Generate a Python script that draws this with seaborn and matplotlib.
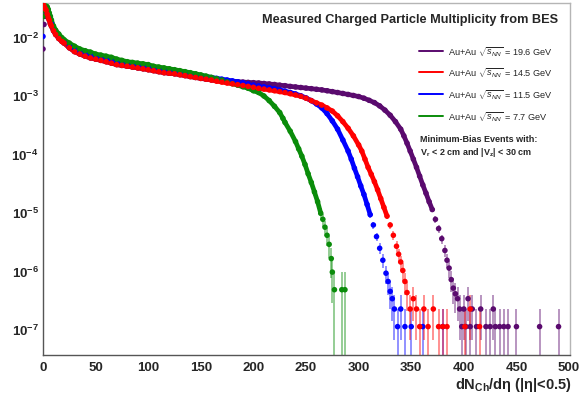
import numpy as np
import pandas as pd
import matplotlib
matplotlib.use("Agg")
import matplotlib.pyplot as plt
import seaborn as sns
from matplotlib.ticker import LogLocator, FixedLocator, FuncFormatter, NullFormatter
from matplotlib.lines import Line2D

# ---------------- data ----------------
energies = ["19.6", "14.5", "11.5", "7.7"]
colors = {"19.6": "#5a0a6e", "14.5": "#ff0000", "11.5": "#0000ff", "7.7": "#0a8c0a"}
one_count = {"19.6": 1.1e-7, "14.5": 1.1e-7, "11.5": 1.1e-7, "7.7": 4.7e-7}

x_196 = [0, 1, 2, 3, 4, 5, 6, 7, 8, 10, 12, 15, 18, 20, 25, 30, 35, 40, 45, 50, 55, 60, 65, 70, 75,
         80, 85, 90, 95, 100, 105, 110, 115, 120, 125, 130, 135, 140, 145, 150, 155, 160, 165, 170,
         175, 180, 185, 190, 195, 200, 205, 210, 215, 220, 225, 230, 235, 240, 245, 250, 255, 260,
         265, 270, 275, 280, 285, 290, 295, 300, 305, 310, 315, 320, 325, 330, 335, 340, 343, 346,
         349, 352, 355, 358, 361, 364, 367, 370, 373, 376, 379, 382, 384, 386, 388, 390, 392, 394,
         396, 398, 400, 402, 404, 406, 408, 412, 416, 421, 425, 428, 430, 434, 438, 442, 450, 472, 490]
y_196 = [0.0061, 0.016, 0.022, 0.026, 0.024, 0.021, 0.019, 0.0165, 0.015, 0.0125, 0.0108, 0.0092,
         0.0082, 0.0077, 0.0064, 0.0055, 0.0050, 0.0046, 0.0043, 0.0041, 0.0039, 0.0037, 0.0035,
         0.0033, 0.0032, 0.0031, 0.0030, 0.0029, 0.0028, 0.0027, 0.0026, 0.0025, 0.0024, 0.00235,
         0.0023, 0.00222, 0.00214, 0.00206, 0.00199, 0.00192, 0.00186, 0.00181, 0.00177, 0.00174,
         0.00172, 0.0017, 0.00168, 0.00166, 0.00164, 0.00162, 0.0016, 0.00157, 0.00154, 0.00151,
         0.00147, 0.00144, 0.0014, 0.00137, 0.00134, 0.00131, 0.00128, 0.00125, 0.00122, 0.00118,
         0.00114, 0.0011, 0.00106, 0.00102, 0.00098, 0.00094, 0.00088, 0.00081, 0.00074, 0.00065,
         0.00055, 0.00045, 0.00035, 0.00026, 0.0002, 0.00015, 0.00011, 8e-5, 5.8e-5, 4.1e-5, 2.9e-5,
         2.1e-5, 1.5e-5, 1.1e-5, 7.5e-6, 5.2e-6, 3.5e-6, 2.2e-6, 1.5e-6, 1.1e-6, 7e-7, 5e-7, 4e-7,
         3.3e-7, 2.2e-7, 1.1e-7, 2.2e-7, 1.1e-7, 3.3e-7, 1.1e-7, 2.2e-7, 1.1e-7, 2.2e-7, 1.1e-7,
         1.1e-7, 2.2e-7, 1.1e-7, 1.1e-7, 1.1e-7, 1.1e-7, 1.1e-7, 1.1e-7, 1.1e-7]

x_145 = [0, 1, 2, 3, 4, 5, 6, 7, 8, 10, 12, 15, 18, 20, 25, 30, 35, 40, 45, 50, 55, 60, 65, 70, 75,
         80, 85, 90, 95, 100, 105, 110, 115, 120, 125, 130, 135, 140, 145, 150, 155, 160, 165, 170,
         175, 180, 185, 190, 195, 200, 205, 210, 215, 220, 225, 230, 235, 240, 245, 250, 255, 260,
         265, 270, 275, 280, 285, 290, 295, 300, 303, 306, 309, 312, 315, 318, 321, 324, 327, 330,
         333, 336, 338, 340, 342, 344, 346, 349, 352, 355, 358, 362, 366, 371, 376, 380, 384, 401,
         406, 415]
y_145 = [0.037, 0.033, 0.030, 0.028, 0.024, 0.021, 0.019, 0.0165, 0.015, 0.0125, 0.0108, 0.0092,
         0.0082, 0.0077, 0.0064, 0.0055, 0.0050, 0.0046, 0.0043, 0.0041, 0.0039, 0.0037, 0.0035,
         0.0033, 0.0032, 0.0031, 0.0030, 0.0029, 0.0028, 0.0027, 0.0026, 0.0025, 0.0024, 0.00235,
         0.0023, 0.00222, 0.00214, 0.00206, 0.00199, 0.00192, 0.00186, 0.0018, 0.00172, 0.00166,
         0.0016, 0.00155, 0.0015, 0.00145, 0.0014, 0.00135, 0.0013, 0.00126, 0.00122, 0.00118,
         0.00114, 0.0011, 0.00105, 0.001, 0.00095, 0.00088, 0.0008, 0.00073, 0.00067, 0.0006,
         0.00053, 0.00044, 0.00035, 0.00027, 0.0002, 0.00014, 0.00011, 8e-5, 5.8e-5, 4.4e-5, 3.3e-5,
         2.4e-5, 1.7e-5, 1.2e-5, 8.5e-6, 6e-6, 4e-6, 2.6e-6, 1.9e-6, 1.4e-6, 1.0e-6, 6.5e-7, 4.2e-7,
         2.2e-7, 3.3e-7, 2.2e-7, 1.1e-7, 2.2e-7, 1.1e-7, 2.2e-7, 1.1e-7, 1.1e-7, 1.1e-7, 1.1e-7,
         2.2e-7, 1.1e-7]

x_115 = [0, 1, 2, 3, 4, 5, 6, 7, 8, 10, 12, 15, 18, 20, 25, 30, 35, 40, 45, 50, 55, 60, 65, 70, 75,
         80, 85, 90, 95, 100, 105, 110, 115, 120, 125, 130, 135, 140, 145, 150, 155, 160, 165, 170,
         175, 180, 185, 190, 195, 200, 205, 210, 215, 220, 225, 230, 235, 240, 245, 250, 255, 260,
         265, 270, 275, 280, 285, 290, 293, 296, 299, 302, 305, 308, 311, 314, 317, 320, 323, 326,
         328, 330, 332, 334, 337, 340, 344, 350, 361, 380]
y_115 = [0.010, 0.028, 0.030, 0.029, 0.026, 0.023, 0.021, 0.019, 0.017, 0.0135, 0.0115, 0.0098,
         0.0087, 0.0081, 0.0069, 0.0061, 0.0055, 0.0051, 0.0048, 0.0045, 0.0043, 0.0041, 0.0039,
         0.0037, 0.0035, 0.0034, 0.0033, 0.0032, 0.0031, 0.0030, 0.0029, 0.0028, 0.0027, 0.0026,
         0.00253, 0.00246, 0.00239, 0.00232, 0.00225, 0.00212, 0.00205, 0.00198, 0.00192, 0.00186,
         0.0018, 0.00174, 0.00168, 0.00162, 0.00155, 0.00148, 0.00143, 0.00138, 0.00133, 0.00128,
         0.00122, 0.00116, 0.0011, 0.00104, 0.00097, 0.00089, 0.0008, 0.0007, 0.0006, 0.00048,
         0.00036, 0.00026, 0.00017, 0.00011, 8e-5, 5.6e-5, 4e-5, 2.8e-5, 2e-5, 1.35e-5, 9e-6, 6e-6,
         3.8e-6, 2.4e-6, 1.5e-6, 9e-7, 6.5e-7, 4.4e-7, 3.3e-7, 2.2e-7, 1.1e-7, 2.2e-7, 1.1e-7,
         1.1e-7, 1.1e-7, 1.1e-7]

x_77 = [0, 1, 2, 3, 4, 5, 6, 7, 8, 10, 12, 15, 18, 20, 25, 30, 35, 40, 45, 50, 55, 60, 65, 70, 75,
        80, 85, 90, 95, 100, 105, 110, 115, 120, 125, 130, 135, 140, 145, 150, 155, 160, 165, 170,
        175, 180, 185, 190, 195, 200, 205, 210, 215, 220, 225, 228, 230, 235, 240, 243, 246, 249,
        252, 255, 258, 261, 264, 266, 268, 270, 272, 274, 275, 277, 284, 287]
y_77 = [0.022, 0.028, 0.031, 0.033, 0.032, 0.029, 0.025, 0.022, 0.019, 0.015, 0.0128, 0.011,
        0.0095, 0.0088, 0.0077, 0.0068, 0.0061, 0.0057, 0.0054, 0.0050, 0.0048, 0.0046, 0.0044,
        0.0041, 0.0039, 0.0037, 0.0036, 0.0035, 0.0034, 0.0033, 0.0031, 0.0030, 0.0029, 0.0028,
        0.0027, 0.0026, 0.0025, 0.0024, 0.0023, 0.0022, 0.0021, 0.0020, 0.0019, 0.0018, 0.00167,
        0.00156, 0.00147, 0.00138, 0.0013, 0.00118, 0.0011, 0.00096, 0.0008, 0.00064, 0.0005,
        0.0004, 0.00034, 0.00024, 0.00016, 0.00012, 9e-5, 6.5e-5, 4.5e-5, 3.2e-5, 2.2e-5, 1.5e-5,
        9.5e-6, 7.5e-6, 5.5e-6, 4.0e-6, 2.8e-6, 1.6e-6, 9.4e-7, 4.7e-7, 4.7e-7, 4.7e-7]

series_x = {"19.6": x_196, "14.5": x_145, "11.5": x_115, "7.7": x_77}
series_y = {"19.6": y_196, "14.5": y_145, "11.5": y_115, "7.7": y_77}
draw_order = ["19.6", "11.5", "7.7", "14.5"]

x_ticks = [0, 50, 100, 150, 200, 250, 300, 350, 400, 450, 500]
y_decades = [-7, -6, -5, -4, -3, -2]

# ---------------- style ----------------
sns.set_theme(style="white")
plt.rcParams["font.family"] = ["Liberation Sans", "DejaVu Sans"]
plt.rcParams["mathtext.fontset"] = "custom"
plt.rcParams["mathtext.rm"] = "Liberation Sans"
plt.rcParams["mathtext.it"] = "Liberation Sans:italic"
plt.rcParams["mathtext.bf"] = "Liberation Sans:bold"

frames = []
for e in draw_order:
    frames.append(pd.DataFrame({"x": series_x[e], "y": series_y[e], "energy": e}))
df = pd.concat(frames, ignore_index=True)

fig = plt.figure(figsize=(5.86, 4.02), dpi=100)
W, H = 586, 402
ax = fig.add_axes([43 / W, 1 - 356 / H, 527 / W, 352.5 / H])

# error bars (counting statistics)
for e in draw_order:
    xv = np.array(series_x[e], float)
    yv = np.array(series_y[e], float)
    err = np.sqrt(yv * one_count[e])
    lo = np.minimum(err, yv * 0.9999)
    ax.errorbar(xv, yv, yerr=[lo, err], fmt="none", ecolor=colors[e], alpha=0.55,
                elinewidth=1.1, capsize=0, zorder=1)

# dense (high-statistics) part of each distribution looks like a continuous band
for e in draw_order:
    d = df[(df["energy"] == e) & (df["y"] >= 8e-6) & (df["x"] >= 3)]
    sns.lineplot(data=d, x="x", y="y", color=colors[e], lw=3.4, estimator=None, sort=False,
                 legend=False, ax=ax, zorder=2)

sns.scatterplot(data=df, x="x", y="y", hue="energy", palette=colors, s=16, linewidth=0,
                marker="o", legend=False, ax=ax, zorder=3)

ax.set_yscale("log")
ax.set_xlim(0, 500.9)
ax.set_ylim(3.6e-8, 0.038)
ax.set_xlabel("")
ax.set_ylabel("")

ax.xaxis.set_major_locator(FixedLocator(x_ticks))
ax.xaxis.set_minor_locator(FixedLocator(list(range(0, 501, 10))))
ax.yaxis.set_major_locator(FixedLocator([10.0 ** d for d in y_decades]))
ax.yaxis.set_minor_locator(LogLocator(base=10, subs=np.arange(2, 10)))
ax.yaxis.set_minor_formatter(NullFormatter())
ax.yaxis.set_major_formatter(FuncFormatter(lambda v, p: r"$\mathbf{10^{%d}}$" % round(np.log10(v))))

ax.tick_params(axis="both", which="both", direction="in", top=False, right=False)
ax.tick_params(axis="y", which="major", length=13, width=1.0, color="#aaaaaa", pad=3,
               labelsize=9.5)
ax.tick_params(axis="y", which="minor", length=7, width=0.9, color="#444444")
ax.tick_params(axis="x", which="major", length=9, width=0.9, color="#444444", pad=4,
               labelsize=9.5)
ax.tick_params(axis="x", which="minor", length=4.5, width=0.9, color="#444444")
for lab in ax.get_xticklabels():
    lab.set_fontweight("bold")

for side in ["top", "right"]:
    ax.spines[side].set_color("#b5b5b5")
    ax.spines[side].set_linewidth(1.0)
for side in ["left", "bottom"]:
    ax.spines[side].set_color("#555555")
    ax.spines[side].set_linewidth(1.0)

# ---------------- texts ----------------
fig.text(558 / W, 1 - 20 / H, "Measured Charged Particle Multiplicity from BES",
         ha="right", va="center", fontsize=9.2, fontweight="bold")

labels = {e: r"Au+Au $\sqrt{s_{NN}}$ = %s GeV" % e for e in energies}
rows = [52, 73, 95, 117]
for e, yy in zip(energies, rows):
    fig.add_artist(Line2D([419 / W, 443 / W], [1 - yy / H, 1 - yy / H], color=colors[e],
                          lw=1.4, transform=fig.transFigure))
    fig.text(448 / W, 1 - yy / H, labels[e], ha="left", va="center", fontsize=6.6)

fig.text(420 / W, 1 - 140 / H, "Minimum-Bias Events with:", ha="left", va="center",
         fontsize=6.5, fontweight="bold")
fig.text(420 / W, 1 - 153 / H, r"V$_{\mathbf{r}}$ < 2 cm and |V$_{\mathbf{z}}$| < 30 cm",
         ha="left", va="center", fontsize=6.5, fontweight="bold")

fig.text(572 / W, 1 - 385 / H, r"dN$_{\mathbf{Ch}}$/d$\mathbf{\eta}$ (|$\mathbf{\eta}$|<0.5)",
         ha="right", va="center", fontsize=10.5, fontweight="bold")

fig.savefig("out.png", dpi=100)
